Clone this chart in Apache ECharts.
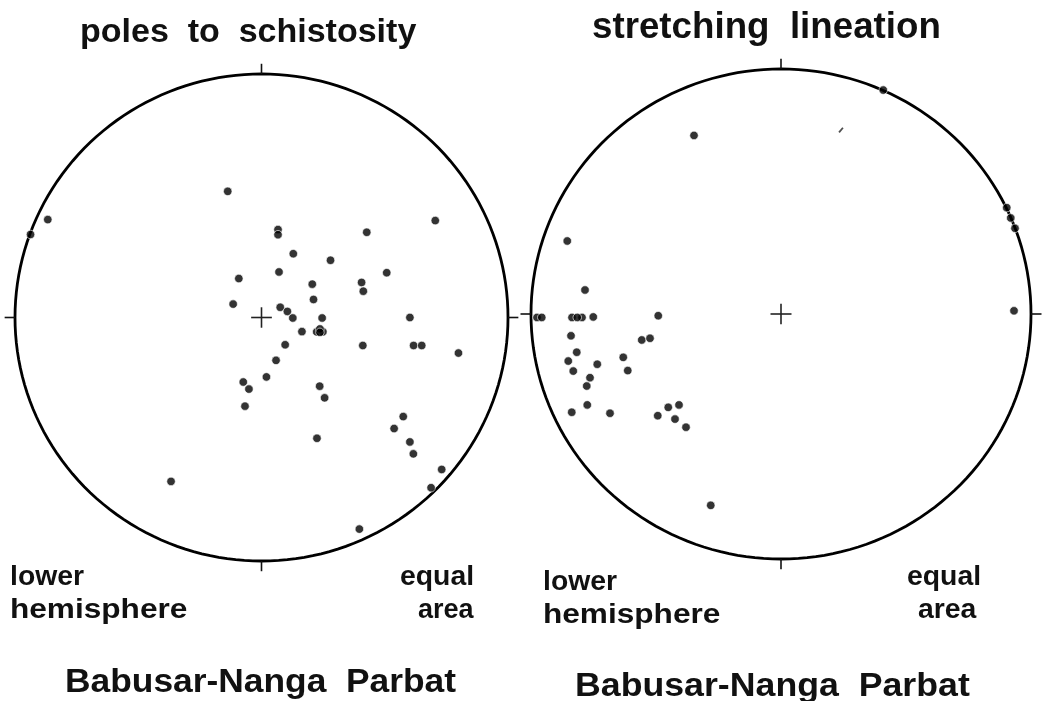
<!DOCTYPE html>
<html>
<head>
<meta charset="utf-8">
<script src="https://cdn.jsdelivr.net/npm/echarts@6/dist/echarts.min.js"></script>
<style>html,body{margin:0;padding:0;background:#fff;}#c{width:1044px;height:701px;}</style>
</head>
<body>
<div id="c"></div>
<script>
// Stereonet coordinates, primitive circle radius = 100
const polesToSchistosity = [
  [-86.7, 40.2], [-93.7, 34.1], [-13.7, 51.8], [-9.2, 16.0], [-11.5, 5.5],
  [70.5, 39.8], [6.7, 36.1], [6.7, 34.0], [42.7, 35.0], [12.9, 26.2],
  [28.0, 23.5], [7.1, 18.7], [50.8, 18.4], [20.6, 13.7], [40.6, 14.4],
  [41.3, 10.8], [21.1, 7.4], [7.6, 4.2], [10.5, 2.5], [12.7, -0.2],
  [24.6, -0.2], [60.2, 0.0], [16.4, -5.8],
  [22.4, -5.9], [24.9, -5.9], [23.7, -4.7], [23.7, -6.1],
  [9.6, -11.2], [5.9, -17.6], [2.0, -24.4], [-7.4, -26.5], [-5.1, -29.4],
  [-6.7, -36.4], [23.6, -28.2], [25.6, -33.0], [22.5, -49.6], [41.1, -11.5],
  [61.7, -11.5], [65.0, -11.5], [79.9, -14.6], [57.5, -40.7], [53.8, -45.6],
  [60.2, -51.1], [61.6, -56.0], [73.1, -62.4], [68.8, -69.9], [39.7, -86.9],
  [-36.7, -67.3]
];
const stretchingLineation = [
  [-34.8, 72.9], [-85.5, 29.8], [-78.4, 9.8],
  [-97.6, -1.4], [-95.7, -1.4], [-83.6, -1.4], [-79.6, -1.4], [-81.5, -1.4],
  [-75.1, -1.2], [-49.1, -0.7], [-84.0, -8.9], [-55.7, -10.6], [-52.4, -9.9],
  [-81.7, -15.6], [-85.1, -19.2], [-63.1, -17.7], [-73.5, -20.5], [-83.1, -23.3],
  [-61.3, -23.1], [-76.4, -26.0], [-77.7, -29.4], [-77.5, -37.1], [-83.7, -40.1],
  [-68.4, -40.5], [-45.1, -38.1], [-40.8, -37.1], [-49.3, -41.5], [-42.4, -42.9],
  [-38.0, -46.2], [-28.1, -78.1],
  [40.9, 91.4], [90.3, 43.4], [91.9, 39.2], [93.6, 35.0], [93.2, 1.3]
];
const faintLineation = [[24.0, 75.1]];

const titles = ['poles  to  schistosity', 'stretching  lineation'];
const cornerLeft = ['lower', 'hemisphere'];
const cornerRight = ['equal', 'area'];
const locality = 'Babusar-Nanga  Parbat';

const R = 100, TICK = 4.2, CROSS = 4.2;

function frameItem(params, api) {
  const pts = [];
  for (let i = 0; i <= 360; i += 2) {
    const t = i * Math.PI / 180;
    pts.push(api.coord([R * Math.cos(t), R * Math.sin(t)]));
  }
  const ch = [{ type: 'polyline', shape: { points: pts }, style: { stroke: '#000', lineWidth: 2.8, fill: null } }];
  [[0, 1], [0, -1], [1, 0], [-1, 0]].forEach(d => {
    const a = api.coord([d[0] * R, d[1] * R]);
    const b = api.coord([d[0] * (R + TICK), d[1] * (R + TICK)]);
    ch.push({ type: 'line', shape: { x1: a[0], y1: a[1], x2: b[0], y2: b[1] }, style: { stroke: '#111', lineWidth: 1.6 } });
  });
  const h1 = api.coord([-CROSS, 0]), h2 = api.coord([CROSS, 0]);
  const v1 = api.coord([0, -CROSS]), v2 = api.coord([0, CROSS]);
  ch.push({ type: 'line', shape: { x1: h1[0], y1: h1[1], x2: h2[0], y2: h2[1] }, style: { stroke: '#222', lineWidth: 1.6 } });
  ch.push({ type: 'line', shape: { x1: v1[0], y1: v1[1], x2: v2[0], y2: v2[1] }, style: { stroke: '#222', lineWidth: 1.6 } });
  return { type: 'group', children: ch };
}

const axisBase = { type: 'value', min: -100, max: 100, show: false };
const dotStyle = { color: '#000', borderColor: '#fff', borderWidth: 0.8 };
const FAM = '"Liberation Sans", Arial, sans-serif';

function label(text, x, y, size, sx) {
  return { type: 'text', x: x, y: y, scaleX: sx || 1, z: 10,
    style: { text: text, font: 'bold ' + size + 'px ' + FAM, fill: '#111', textAlign: 'left', textVerticalAlign: 'middle' } };
}

const chart = echarts.init(document.getElementById('c'));
chart.setOption({
  backgroundColor: '#fff',
  animation: false,
  graphic: [
    label(titles[0], 80, 33, 34, 1.0),
    label(titles[1], 592, 28, 36, 1.02),
    label(cornerLeft[0], 10, 578, 27, 1.05),
    label(cornerLeft[1], 10, 611, 27, 1.17),
    label(cornerRight[0], 400, 578, 27, 1.05),
    label(cornerRight[1], 418, 611, 27, 1.0),
    label(cornerLeft[0], 543, 583, 27, 1.05),
    label(cornerLeft[1], 543, 616, 27, 1.17),
    label(cornerRight[0], 907, 578, 27, 1.05),
    label(cornerRight[1], 918, 611, 27, 1.05),
    label(locality, 65, 683, 34, 1.04),
    label(locality, 575, 687, 34, 1.05)
  ],
  grid: [
    { left: 15, top: 74, width: 493, height: 487 },
    { left: 531, top: 69, width: 500, height: 490 }
  ],
  xAxis: [Object.assign({ gridIndex: 0 }, axisBase), Object.assign({ gridIndex: 1 }, axisBase)],
  yAxis: [Object.assign({ gridIndex: 0 }, axisBase), Object.assign({ gridIndex: 1 }, axisBase)],
  series: [
    { type: 'custom', xAxisIndex: 0, yAxisIndex: 0, data: [[0, 0]], renderItem: frameItem, z: 1, silent: true },
    { type: 'custom', xAxisIndex: 1, yAxisIndex: 1, data: [[0, 0]], renderItem: frameItem, z: 1, silent: true },
    { type: 'scatter', name: 'poles to schistosity', xAxisIndex: 0, yAxisIndex: 0, data: polesToSchistosity,
      symbol: 'circle', symbolSize: 8.5, itemStyle: dotStyle, z: 5, clip: false },
    { type: 'scatter', name: 'stretching lineation', xAxisIndex: 1, yAxisIndex: 1, data: stretchingLineation,
      symbol: 'circle', symbolSize: 8.5, itemStyle: dotStyle, z: 5, clip: false },
    { type: 'scatter', name: 'faint', xAxisIndex: 1, yAxisIndex: 1, data: faintLineation,
      symbol: 'rect', symbolSize: [6, 1.8], symbolRotate: 50, itemStyle: { color: '#222' }, z: 5 }
  ]
});
</script>
</body>
</html>
